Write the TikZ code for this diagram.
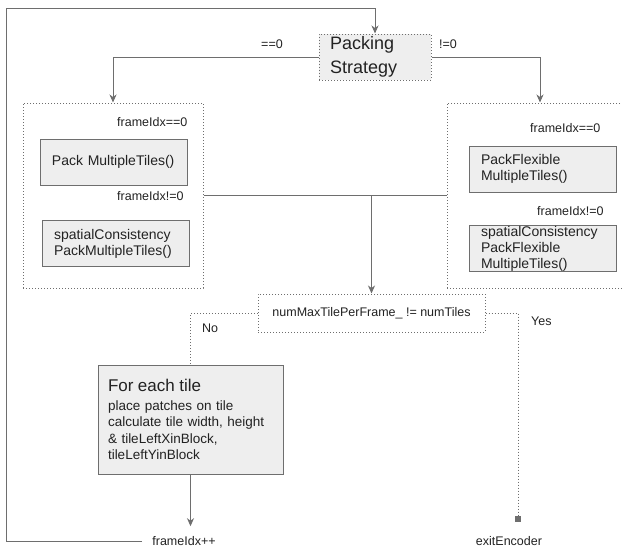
\documentclass[tikz,border=0pt]{standalone}
\usepackage{fontspec}
\setmainfont{Liberation Sans}
\usetikzlibrary{arrows.meta}
\definecolor{linegray}{HTML}{6E6E6E}
\definecolor{boxfill}{HTML}{EEEEEE}
\definecolor{txtgray}{HTML}{222222}

\begin{document}
\begin{tikzpicture}[x=1pt,y=-1pt,
		every node/.style={text=txtgray,inner sep=0pt},
		flow/.style={draw=linegray,line width=1pt},
		arr/.style={flow,-{Stealth[length=8pt,width=7pt,inset=2.5pt]}},
		dots/.style={draw=linegray,line width=1pt,dash pattern=on 1pt off 2pt},
		tilebox/.style={draw=linegray,fill=boxfill,line width=1pt,align=left,
			inner xsep=12pt,minimum height=46pt,text width=#1,
			font=\fontsize{14}{16}\selectfont},
		lbl/.style={font=\fontsize{12.5}{14}\selectfont}]
		\useasboundingbox (0,0) rectangle (622,549);
		\clip (0,0) rectangle (622,549);

		% Strategy and the two groups
		\node[dots,fill=boxfill,align=left,inner xsep=11pt,minimum height=46pt,text width=90pt,
			font=\fontsize{18}{24}\selectfont] (pack) at (375,57) {Packing\\Strategy};
		\node[dots,minimum width=180pt,minimum height=185pt] (leftgrp) at (113,195.5) {};
		\node[dots,minimum width=186pt,minimum height=185pt] (rightgrp) at (540,195.5) {};

		\node[tilebox=123pt] (pmt) at (113.5,162) {Pack MultipleTiles()};
		\node[tilebox=123pt] (spmt) at (115.5,243.5) {spatialConsistency\\PackMultipleTiles()};
		\node[tilebox=123pt] (pfmt) at (542.5,169) {PackFlexible\\MultipleTiles()};
		\node[tilebox=123pt,minimum height=45pt] (spfmt) at (542.5,248.5) {spatialConsistency\\PackFlexible\\MultipleTiles()};

		\node[lbl] (eqz) at (272,44) {==0};
		\node[lbl] (nez) at (448,44) {!=0};
		\node[lbl,anchor=west] (lfirst) at (117,122) {frameIdx==0};
		\node[lbl,anchor=west] (lnext) at (117,196) {frameIdx!=0};
		\node[lbl,anchor=west] (rfirst) at (530,128) {frameIdx==0};
		\node[lbl,anchor=west] (rnext) at (537,211) {frameIdx!=0};

		% Decision and the two ways out
		\node[dots,lbl,minimum width=227pt,minimum height=38pt] (decide) at (371.5,313) {numMaxTilePerFrame\_ != numTiles};
		\node[lbl] (no) at (210,328) {No};
		\node[lbl,anchor=west] (yes) at (531,321) {Yes};

		\node[draw=linegray,fill=boxfill,line width=1pt,align=left,inner xsep=10pt,
			minimum width=185pt,minimum height=109pt,text width=165pt,
			font=\fontsize{13.5}{16.5}\selectfont] (foreach) at (190.5,419.5)
			{{\fontsize{17}{19}\selectfont For each tile}\\[2.5pt]place patches on tile\\calculate tile width, height\\\& tileLeftXinBlock,\\tileLeftYinBlock};

		\node[lbl] (frameinc) at (184,541) {frameIdx++};
		\node[fill=linegray,minimum size=6pt] (exitsq) at (518,519) {};
		\node[lbl] (exitenc) at (509,541) {exitEncoder};

		\coordinate (loopin) at (142,541);
		\coordinate (loopcorner) at (6,8);

		% Connectors
		\draw[arr] (loopin) -| (loopcorner) -| (pack.north);
		\draw[arr] (pack.west) -| (leftgrp.north);
		\draw[arr] (pack.east) -| (rightgrp.north);
		\draw[flow] (leftgrp.east) -- (rightgrp.west);
		\draw[arr] (decide.north |- leftgrp.east) -- (decide.north);
		\draw[dots] (decide.west) -| (foreach.north);
		\draw[dots] (decide.east) -| (exitsq.north);
		\draw[arr,shorten >=10pt] (foreach.south) -- (foreach.south |- frameinc.north);
	\end{tikzpicture}
\end{document}
